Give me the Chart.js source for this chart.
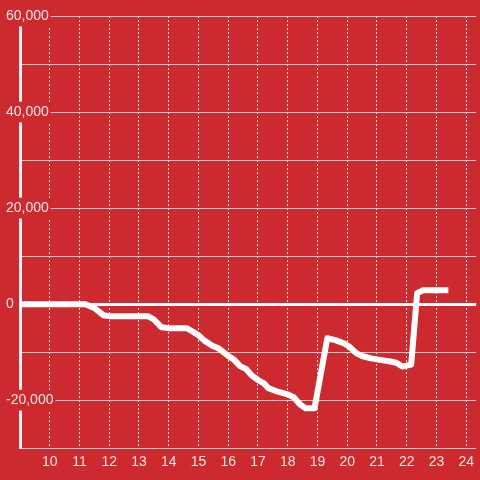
<!DOCTYPE html>
<html lang="en">
<head>
    <meta charset="UTF-8">
    <title>Running total</title>
    <script src="https://cdn.jsdelivr.net/npm/chart.js"></script>
    <style>
        html, body { margin: 0; padding: 0; background: #cc2a2f; }
        #wrap { width: 480px; height: 480px; }
    </style>
</head>
<body>
<div id="wrap"><canvas id="lineChart"></canvas></div>

<script>
  // Data
  const hours = [9, 10, 11, 11.2, 11.5, 11.8, 12, 13, 13.3, 13.5, 13.75, 14, 14.6, 14.8, 15, 15.2, 15.45, 15.7,
    16, 16.2, 16.4, 16.6, 16.8, 17, 17.2, 17.35, 17.6, 18, 18.2, 18.4, 18.6, 18.9, 19.33, 19.6, 19.9,
    20.1, 20.3, 20.5, 20.8, 21.1, 21.4, 21.65, 21.85, 22.15, 22.35, 22.55, 23.4];
  const totals = [0, 0, 0, 0, -800, -2300, -2500, -2500, -2500, -3200, -4800, -5000, -5000, -5700, -6500, -7600, -8600, -9300,
    -10800, -11600, -12900, -13500, -14900, -15800, -16500, -17500, -18100, -18800, -19400, -20800, -21700, -21700, -7100, -7500, -8200,
    -9000, -10200, -10800, -11300, -11600, -11900, -12200, -13000, -12600, 2300, 2900, 2900];
  const xTicks = [10, 11, 12, 13, 14, 15, 16, 17, 18, 19, 20, 21, 22, 23, 24];
  const yLabelled = [60000, 40000, 20000, 0, -20000];

  const bg = '#cc2a2f';
  const textColor = '#f5e4e4';

  const points = hours.map((h, i) => ({ x: h, y: totals[i] }));

  const ctx = document.getElementById('lineChart').getContext('2d');
  new Chart(ctx, {
    type: 'line',
    data: {
      datasets: [{
        data: points,
        borderColor: '#ffffff',
        borderWidth: 6,
        pointRadius: 0,
        tension: 0,
        borderJoinStyle: 'round',
        fill: false
      }]
    },
    options: {
      responsive: true,
      maintainAspectRatio: false,
      animation: false,
      layout: { padding: { left: 20, top: 16, right: 0, bottom: 3 } },
      plugins: { legend: { display: false }, tooltip: { enabled: false } },
      scales: {
        x: {
          type: 'linear',
          min: 9,
          max: 24.333,
          afterBuildTicks: (scale) => { scale.ticks = xTicks.map(v => ({ value: v })); },
          grid: { color: '#e6e0e0', lineWidth: 1, drawTicks: false },
          border: { display: false, dash: [2, 2] },
          ticks: {
            color: textColor,
            padding: 6,
            maxRotation: 0,
            autoSkip: false,
            font: { family: 'Liberation Sans', size: 14 }
          }
        },
        y: {
          min: -30000,
          max: 60000,
          // labels sit over the plot, so the axis takes no room
          afterFit: (scale) => { scale.width = 0; },
          grid: {
            drawTicks: false,
            color: (c) => c.tick && c.tick.value === 0 ? '#ffffff' : '#d4cccc',
            lineWidth: (c) => c.tick && c.tick.value === 0 ? 3 : 1
          },
          border: { display: true, color: '#f2f2f2', width: 3 },
          ticks: {
            stepSize: 10000,
            mirror: true,
            padding: -14,
            color: textColor,
            showLabelBackdrop: true,
            backdropColor: bg,
            backdropPadding: 2,
            font: { family: 'Liberation Sans', size: 14 },
            callback: (v) => yLabelled.includes(v) ? v.toLocaleString('en-US') : ''
          }
        }
      }
    }
  });
</script>
</body>
</html>
